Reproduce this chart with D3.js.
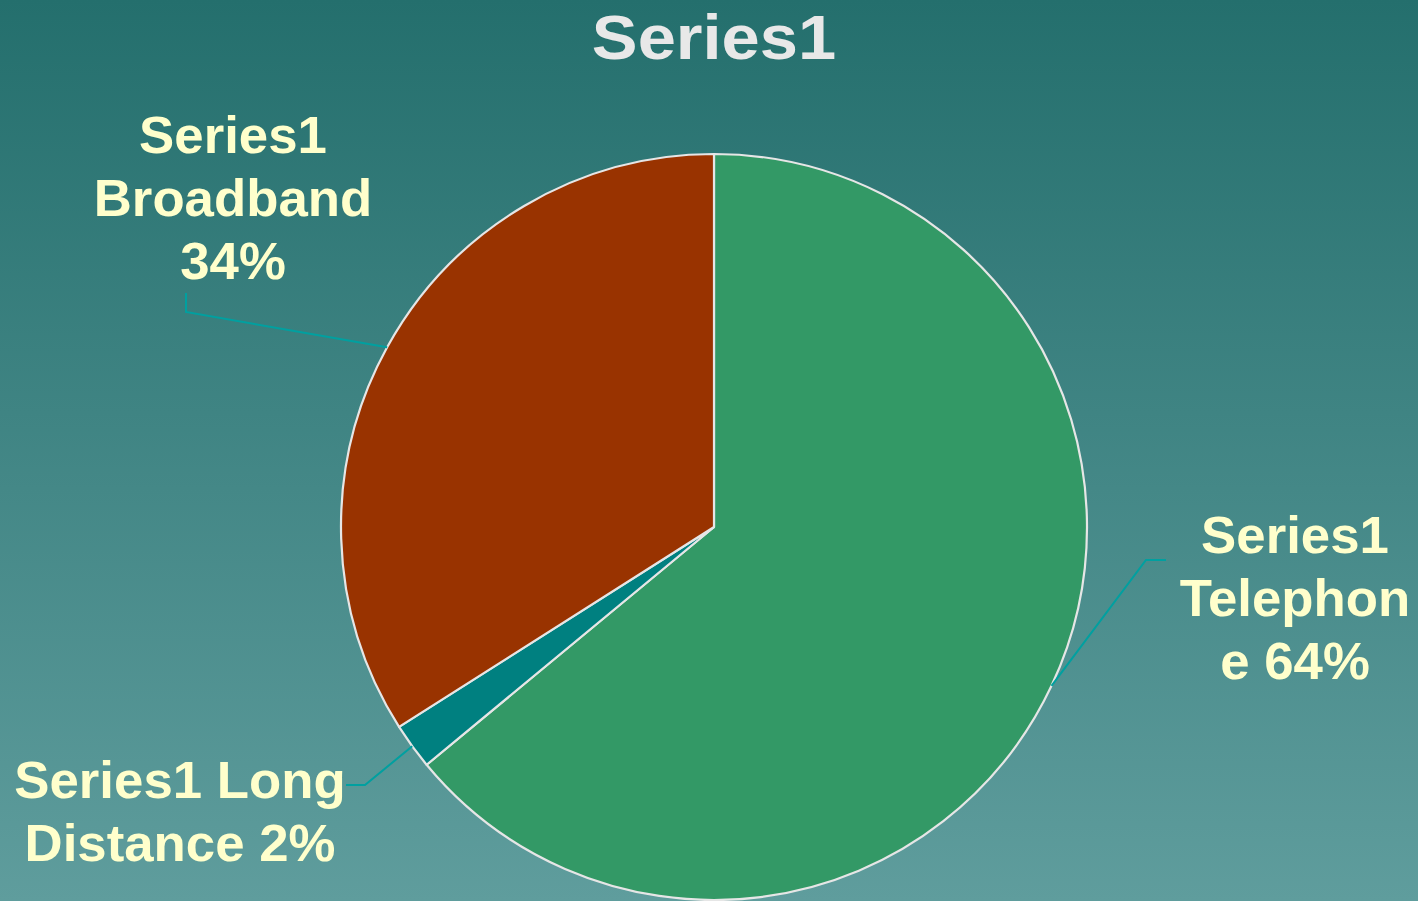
<!DOCTYPE html>
<html>
<head>
<meta charset="utf-8">
<script src="https://cdn.jsdelivr.net/npm/d3@7"></script>
<style>
  html, body { margin: 0; padding: 0; overflow: hidden; }
  svg { display: block; }
</style>
</head>
<body>
<svg id="chart" width="1418" height="901"></svg>
<script>
// Slice data, in drawing order clockwise from 12 o'clock
const categories = ["Telephone", "Long Distance", "Broadband"];
const values = [64, 2, 34];
const seriesName = "Series1";
// Label text lines for each slice
const labelLines = [
  ["Series1", "Telephon", "e 64%"],
  ["Series1 Long", "Distance 2%"],
  ["Series1", "Broadband", "34%"]
];
const sliceColors = ["#339966", "#008080", "#993300"];

const W = 1418, H = 901;
const svg = d3.select("#chart");

// Background gradient
const defs = svg.append("defs");
const grad = defs.append("linearGradient")
  .attr("id", "bg").attr("x1", 0).attr("y1", 0).attr("x2", 0).attr("y2", 1);
grad.append("stop").attr("offset", "0%").attr("stop-color", "#246f6d");
grad.append("stop").attr("offset", "100%").attr("stop-color", "#5f9d9d");
svg.append("rect").attr("width", W).attr("height", H).attr("fill", "url(#bg)");

const FONT = "Liberation Sans, Arial, sans-serif";

// Title (slightly widened glyphs)
svg.append("g")
  .attr("transform", "translate(714,59) scale(1.09,1)")
  .append("text")
  .attr("x", 0).attr("y", 0)
  .attr("text-anchor", "middle")
  .attr("font-family", FONT)
  .attr("font-weight", "bold")
  .attr("font-size", 63)
  .attr("fill", "#e8e8e8")
  .text(seriesName);

const cx = 714, cy = 527, R = 373;
const g = svg.append("g").attr("transform", `translate(${cx},${cy})`);

const pie = d3.pie().sort(null).value(d => d.value);
const arcs = pie(categories.map((c, i) => ({ name: c, value: values[i], color: sliceColors[i], lines: labelLines[i] })));
const arc = d3.arc().innerRadius(0).outerRadius(R);

g.selectAll("path.slice")
  .data(arcs)
  .join("path")
  .attr("class", "slice")
  .attr("d", arc)
  .attr("fill", d => d.data.color)
  .attr("stroke", "#e6e6e6")
  .attr("stroke-width", 2.2)
  .attr("stroke-linejoin", "round");

// Label layout: text center x and first baseline, leader elbow and end, in page pixels
const labelLayout = {
  "Telephone":     { x: 1295, y: 553, elbow: [1146, 560], end: [1166, 560] },
  "Long Distance": { x: 180,  y: 798, elbow: [365, 785],  end: [346, 785] },
  "Broadband":     { x: 233,  y: 153, elbow: [186, 312],  end: [186, 293] }
};
const lineH = 63;

arcs.forEach(d => {
  const L = labelLayout[d.data.name];
  const mid = (d.startAngle + d.endAngle) / 2;
  const p0 = [cx + R * Math.sin(mid), cy - R * Math.cos(mid)];
  svg.append("path")
    .attr("d", d3.line()([p0, L.elbow, L.end]))
    .attr("fill", "none")
    .attr("stroke", "#00a0a0")
    .attr("stroke-width", 2);
  const t = svg.append("g")
    .attr("transform", `translate(${L.x},${L.y}) scale(1.035,1)`)
    .append("text")
    .attr("text-anchor", "middle")
    .attr("font-family", FONT)
    .attr("font-weight", "bold")
    .attr("font-size", 51)
    .attr("fill", "#ffffcc");
  d.data.lines.forEach((ln, i) => {
    t.append("tspan").attr("x", 0).attr("y", i * lineH).text(ln);
  });
});
</script>
</body>
</html>
